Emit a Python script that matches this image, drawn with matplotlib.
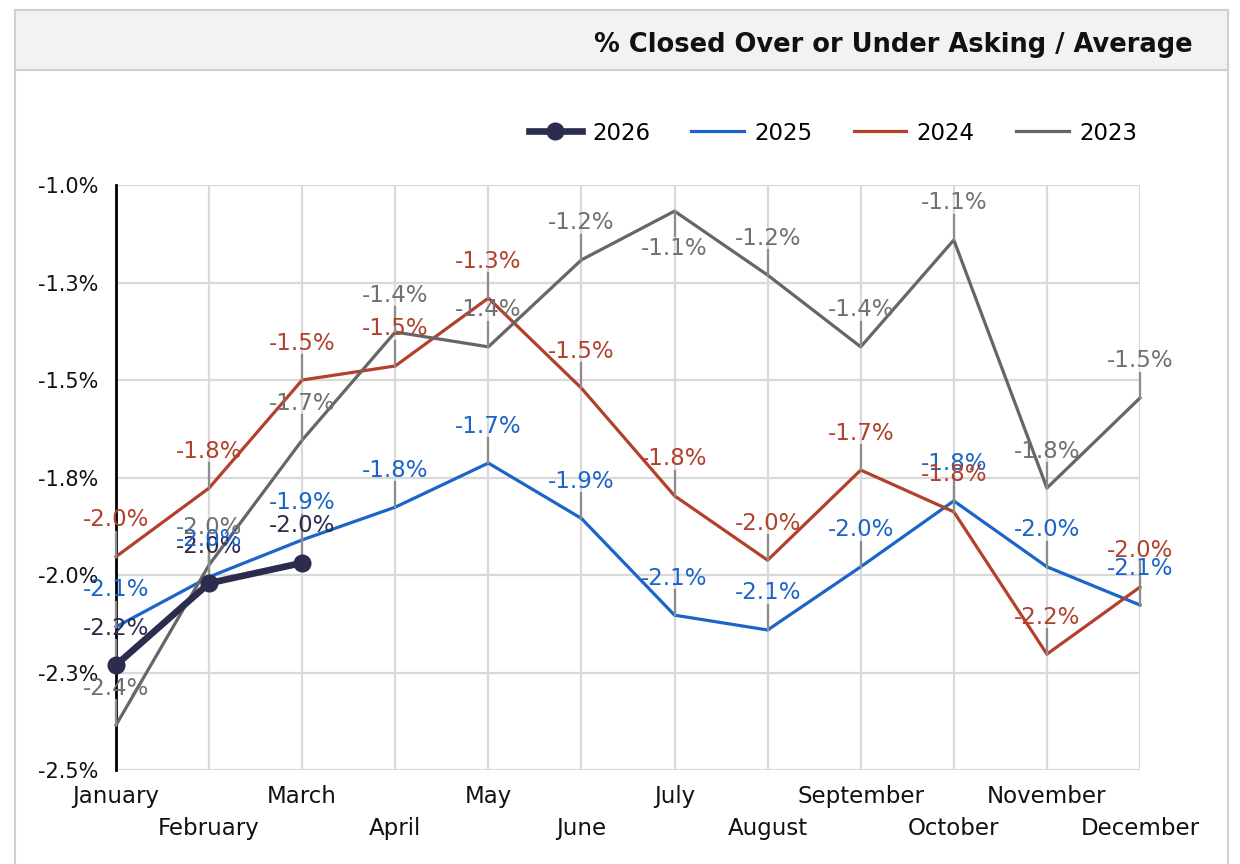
import matplotlib
matplotlib.use("Agg")
import matplotlib.pyplot as plt
from matplotlib.patches import Rectangle
from matplotlib.lines import Line2D

FONT = ["DejaVu Sans"]
plt.rcParams['font.family'] = FONT

months = ["January", "February", "March", "April", "May", "June", "July",
          "August", "September", "October", "November", "December"]
y_ticks = [-1.0, -1.25, -1.5, -1.75, -2.0, -2.25, -2.5]
y_tick_labels = ["-1.0%", "-1.3%", "-1.5%", "-1.8%", "-2.0%", "-2.3%", "-2.5%"]

v2026 = [-2.231, -2.021, -1.969]
v2025 = [-2.133, -2.005, -1.910, -1.826, -1.713, -1.855, -2.103, -2.141, -1.979, -1.810, -1.979, -2.077]
v2024 = [-1.953, -1.777, -1.500, -1.464, -1.290, -1.521, -1.797, -1.962, -1.731, -1.838, -2.203, -2.031]
v2023 = [-2.385, -1.974, -1.654, -1.377, -1.415, -1.192, -1.067, -1.231, -1.415, -1.141, -1.777, -1.546]

series = [
    ("2026", v2026, "#2b2c4e", "#2b2c4e"),
    ("2025", v2025, "#1b64c9", "#1b64c9"),
    ("2024", v2024, "#b3402b", "#b3402b"),
    ("2023", v2023, "#666666", "#707070"),
]

W, H = 1240, 864
fig = plt.figure(figsize=(W / 100, H / 100), dpi=100)

# frame + header
fig.add_artist(Line2D([15 / W, 15 / W], [0, 1 - 10 / H], color="#d0d0d0", lw=1.5, transform=fig.transFigure))
fig.add_artist(Line2D([1228 / W, 1228 / W], [0, 1 - 10 / H], color="#d0d0d0", lw=1.5, transform=fig.transFigure))
fig.add_artist(Rectangle((15 / W, 1 - 70 / H), (1228 - 15) / W, 60 / H, transform=fig.transFigure,
                         facecolor="#f2f2f2", edgecolor="#d0d0d0", lw=1.5))
fig.text(1193 / W, 1 - 45 / H, "% Closed Over or Under Asking / Average", ha="right", va="center",
         fontsize=18.5, fontweight="bold", color="#111111")

ax = fig.add_axes([116 / W, 1 - 770 / H, (1140 - 116) / W, (770 - 185) / H])
x = list(range(len(months)))
ax.set_xlim(0, len(months) - 1)
ax.set_ylim(-2.5, -1.0)
ax.set_yticks(y_ticks)
ax.set_yticklabels(y_tick_labels, fontsize=15, color="#111111")
ax.set_xticks(x)
ax.set_xticklabels(months, fontsize=16.5, color="#111111")
ax.tick_params(axis="both", length=0)
ax.tick_params(axis="y", pad=13)
for i, t in enumerate(ax.xaxis.get_major_ticks()):
    t.set_pad(11 if i % 2 == 0 else 34)
ax.grid(True, color="#d9d9d9", lw=1.6)
ax.set_axisbelow(True)
for s in ["top", "right", "bottom"]:
    ax.spines[s].set_visible(False)
ax.spines["left"].set_color("black")
ax.spines["left"].set_linewidth(2)
ax.spines["left"].set_zorder(3)

# lines
for name, vals, col, lcol in series:
    xs = x[:len(vals)]
    if name == "2026":
        ax.plot(xs, vals, color=col, lw=4.8, marker="o", ms=12, clip_on=False, zorder=5, label=name)
    else:
        ax.plot(xs, vals, color=col, lw=2.3, clip_on=False, zorder=4, label=name)

# data labels with leader lines
px_per_unit = (770 - 185) / 1.5
for name, vals, col, lcol in series:
    for i, v in enumerate(vals):
        below = (name == "2023" and i == 6)
        sign = -1 if below else 1
        lead = 25 / px_per_unit
        off = 37 / px_per_unit
        ax.plot([i, i], [v, v + sign * lead], color="#8c8c8c", lw=1.6, zorder=4.5, clip_on=False)
        ax.text(i, v + sign * off, f"{v:.1f}%", ha="center", va="center", fontsize=16.5,
                color=lcol, zorder=6, clip_on=False)

# legend
handles = [
    Line2D([], [], color="#2b2c4e", lw=4.8, marker="o", ms=12),
    Line2D([], [], color="#1b64c9", lw=2.3),
    Line2D([], [], color="#b3402b", lw=2.3),
    Line2D([], [], color="#666666", lw=2.3),
]
fig.legend(handles, [s[0] for s in series], loc="center", bbox_to_anchor=(833 / W, 1 - 133 / H),
           ncol=4, frameon=False, fontsize=16.5, handlelength=2.3, handletextpad=0.45, columnspacing=1.8)

fig.savefig("out.png", dpi=100)
